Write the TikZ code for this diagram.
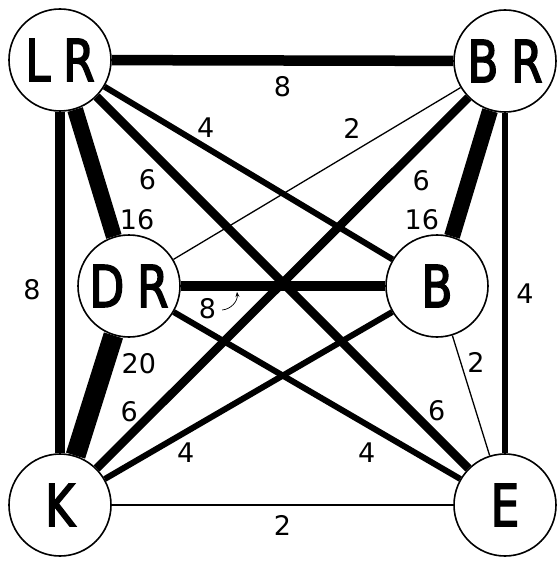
\documentclass[tikz,border=0pt]{standalone}
\usepackage{fontspec}
\setmainfont{DejaVu Sans}
\newfontfamily\roomfont[FakeStretch=0.78, FakeBold=2.5, LetterSpace=22]{DejaVu Sans}
\usetikzlibrary{arrows.meta}

\begin{document}
\begin{tikzpicture}[
  x=1pt, y=-1pt,
  room/.style={draw, circle, line width=1.6pt, minimum size=102pt, inner sep=0pt, fill=white,
    font={\roomfont\fontsize{58}{62}\selectfont}},
  flow/.style={font={\fontsize{27}{30}\selectfont}, inner sep=0pt},
  w2/.style={line width=1.3pt},
  w4/.style={line width=6pt},
  w6/.style={line width=8.5pt},
  w8/.style={line width=10.5pt},
  w16/.style={line width=16pt},
  w20/.style={line width=20pt}
]
  \useasboundingbox (0,0) rectangle (556,561);

  \node[room] (LR) at (60,60)   {LR};
  \node[room] (BR) at (505,61)  {BR};
  \node[room] (DR) at (129,286) {DR};
  \node[room] (B)  at (437,286) {B};
  \node[room] (K)  at (60,505)  {K};
  \node[room] (E)  at (505,505) {E};

  \draw[w8]  (LR) -- node[flow, pos=0.5, shift={(0,26)}] (f1) {8} (BR);
  \draw[w8]  (LR) -- node[flow, pos=0.52, shift={(-28,0)}] (f2) {8} (K);
  \draw[w16] (LR) -- node[flow, pos=0.93, shift={(26,-8)}] (f3) {16} (DR);
  \draw[w4]  (LR) -- node[flow, pos=0.32, shift={(9,-14)}] (f4) {4} (B);
  \draw[w6]  (LR) -- node[flow, pos=0.18, shift={(-16,16)}] (f5) {6}
                     node[flow, pos=0.88, shift={(13,-13)}] (f6) {6} (E);
  \draw[w2]  (BR) -- node[flow, pos=0.34, shift={(-11,-18)}] (f7) {2} (DR);
  \draw[w6]  (BR) -- node[flow, pos=0.175, shift={(18,18)}] (f8) {6}
                     node[flow, pos=0.88, shift={(-12,-12)}] (f9) {6} (K);
  \draw[w16] (BR) -- node[flow, pos=0.95, shift={(-32,-10)}] (f10) {16} (B);
  \draw[w4]  (BR) -- node[flow, pos=0.53, shift={(20,0)}] (f11) {4} (E);
  \draw[w8]  (DR) -- node[flow, pos=0.13, shift={(0,23)}] (f12) {8}
                     coordinate[pos=0.27] (m12) (B);
  \draw[w20] (DR) -- node[flow, pos=0.15, shift={(31,10)}] (f13) {20} (K);
  \draw[w4]  (DR) -- node[flow, pos=0.715, shift={(-12,21)}] (f14) {4} (E);
  \draw[w4]  (B)  -- node[flow, pos=0.75, shift={(9,15)}] (f15) {4} (K);
  \draw[w2]  (B)  -- node[flow, pos=0.26, shift={(14,-4)}] (f16) {2} (E);
  \draw[w2]  (K)  -- node[flow, pos=0.5, shift={(0,20)}] (f17) {2} (E);

  % pointer from the 8 to its line
  \draw[-{Stealth[length=5pt, width=4pt]}, line width=0.7pt]
    ([shift={(1,1)}]f12.east) to[bend right=45] ([shift={(1,6)}]m12);
\end{tikzpicture}
\end{document}
